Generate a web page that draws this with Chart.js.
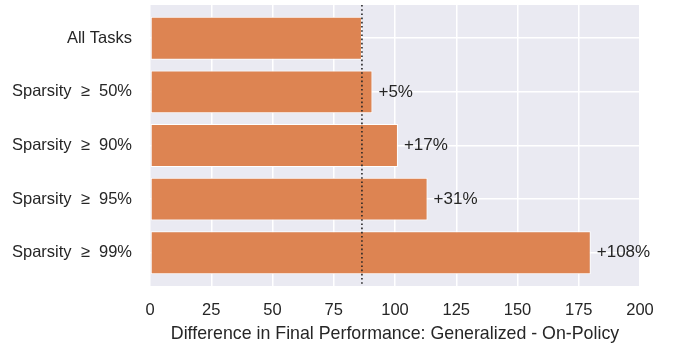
<!DOCTYPE html>
<html>
<head>
<meta charset="utf-8">
<script src="https://cdn.jsdelivr.net/npm/chart.js@4/dist/chart.umd.min.js"></script>
<style>
  html, body { margin: 0; padding: 0; background: #ffffff; }
  #wrap { width: 677px; height: 345px; }
</style>
</head>
<body>
<div id="wrap"><canvas id="chart" width="677" height="345"></canvas></div>
<script>
// Task groups (top to bottom) and their performance gap
const categories = ['All Tasks', 'Sparsity  \u2265  50%', 'Sparsity  \u2265  90%', 'Sparsity  \u2265  95%', 'Sparsity  \u2265  99%'];
const gapValues = [86.5, 90.8, 101.2, 113.3, 179.9];
const xTicks = [0, 25, 50, 75, 100, 125, 150, 175, 200];
const xTitle = 'Difference in Final Performance: Generalized - On-Policy';

// Reference level = the "All Tasks" gap
const baseline = gapValues[0];
// Relative increase over the baseline, shown next to each sparse group
const increaseLabels = gapValues.map((v, i) =>
  i === 0 ? '' : '+' + Math.round((v / baseline - 1) * 100) + '%');

const FONT = '"Liberation Sans", Arial, sans-serif';
const TEXT = '#262626';
// extra room above the first and below the last category (in category units)
const CAT_MARGIN = 0.12;

const overlay = {
  id: 'overlay',
  afterDatasetsDraw(chart) {
    const { ctx, chartArea, scales } = chart;
    // dotted baseline marker
    const x = scales.x.getPixelForValue(baseline);
    ctx.save();
    ctx.strokeStyle = '#262626';
    ctx.lineWidth = 1.6;
    ctx.setLineDash([1.6, 2.6]);
    ctx.beginPath();
    ctx.moveTo(x, chartArea.top);
    ctx.lineTo(x, chartArea.bottom);
    ctx.stroke();
    ctx.restore();

    // percentage labels at the bar ends
    const meta = chart.getDatasetMeta(0);
    ctx.save();
    ctx.font = '17px ' + FONT;
    ctx.fillStyle = TEXT;
    ctx.textAlign = 'left';
    ctx.textBaseline = 'middle';
    meta.data.forEach((bar, i) => {
      if (!increaseLabels[i]) return;
      ctx.fillText(increaseLabels[i], bar.x + 6, bar.y);
    });
    ctx.restore();
  }
};

const bgPlugin = {
  id: 'plotBg',
  beforeDraw(chart) {
    const { ctx, chartArea } = chart;
    ctx.save();
    ctx.fillStyle = '#EAEAF2';
    ctx.fillRect(chartArea.left, chartArea.top, chartArea.right - chartArea.left, chartArea.bottom - chartArea.top);
    ctx.restore();
  }
};

new Chart(document.getElementById('chart'), {
  type: 'bar',
  data: {
    labels: categories,
    datasets: [{
      data: gapValues,
      backgroundColor: '#DD8452',
      borderColor: '#ffffff',
      borderWidth: 1,
      borderSkipped: false,
      categoryPercentage: 1.0,
      barPercentage: 0.8
    }]
  },
  options: {
    indexAxis: 'y',
    responsive: false,
    animation: false,
    devicePixelRatio: 1,
    layout: { padding: { top: 5, right: 37, left: 0, bottom: 0 } },
    plugins: { legend: { display: false }, tooltip: { enabled: false } },
    scales: {
      x: {
        type: 'linear',
        min: 0,
        max: 200,
        afterBuildTicks(scale) { scale.ticks = xTicks.map(v => ({ value: v })); },
        afterFit(scale) { scale.height = 59; scale.paddingLeft = 0; scale.paddingRight = 0; },
        grid: { color: '#ffffff', lineWidth: 1.5, drawTicks: false },
        border: { display: false },
        ticks: { color: TEXT, font: { family: FONT, size: 16.5 }, padding: 15, maxRotation: 0 },
        title: { display: true, text: xTitle, color: TEXT, font: { family: FONT, size: 17.8 }, padding: { top: 4, bottom: 0 } }
      },
      y: {
        afterFit(scale) { scale.width = 150; scale.paddingTop = 0; scale.paddingBottom = 0; },
        afterUpdate(scale) {
          scale._startValue -= CAT_MARGIN;
          scale._valueRange += 2 * CAT_MARGIN;
        },
        grid: { color: '#ffffff', lineWidth: 1.5, drawTicks: false, offset: false },
        border: { display: false },
        ticks: { color: TEXT, font: { family: FONT, size: 16.5 }, padding: 18 }
      }
    }
  },
  plugins: [bgPlugin, overlay]
});
</script>
</body>
</html>
